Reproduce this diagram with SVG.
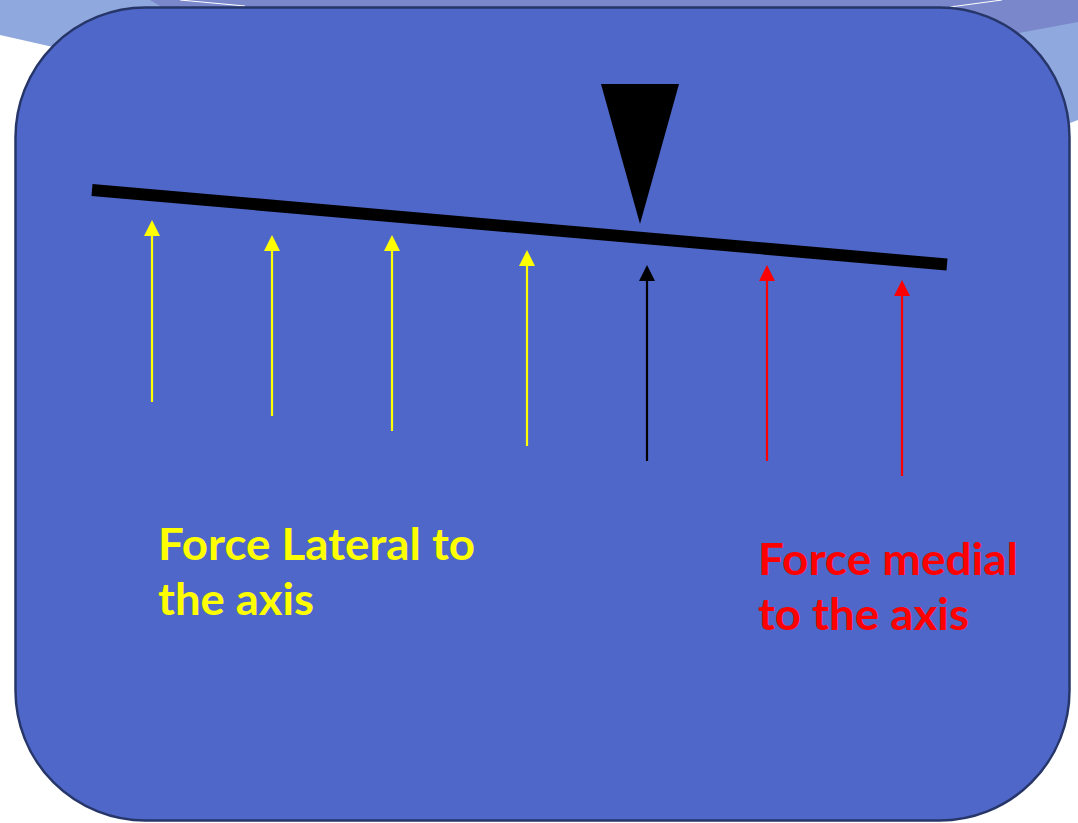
<svg xmlns="http://www.w3.org/2000/svg" width="1078" height="823" viewBox="0 0 1078 823">
  <defs>
    <style>
      .lbl { font-family: "Lato", "Open Sans", "Liberation Sans", sans-serif; font-weight: bold; font-size: 44px; }
      .shaft { stroke-width: 2.2; fill: none; }
    </style>
  </defs>
  <rect width="1078" height="823" fill="#ffffff"/>
  <g id="background">
    <polygon points="0,0 1078,0 1078,120 814,219 0,35" fill="#8FA8DE"/>
    <polygon points="150,0 1078,0 1078,22 820,70 250,60" fill="#7A87CA"/>
    <line x1="180" y1="0" x2="245" y2="6" stroke="#ffffff" stroke-width="1"/>
    <line x1="950" y1="7" x2="1002" y2="0" stroke="#ffffff" stroke-width="1"/>
  </g>
  <g id="panel">
    <rect x="15.5" y="7.5" width="1054" height="813" rx="130" ry="130" fill="#4F67C8" stroke="#273669" stroke-width="2.5"/>
  </g>
  <g id="beam">
    <line x1="92" y1="190" x2="947" y2="264.5" stroke="#000000" stroke-width="12"/>
  </g>
  <g id="fulcrum">
    <polygon points="601,84 679,84 640,224" fill="#000000"/>
  </g>
  <g id="connectors">
    <g id="arrow-y1"><line class="shaft" x1="152" y1="402" x2="152" y2="234" stroke="#FFFF00"/><polygon points="152,220 144,236 160,236" fill="#FFFF00"/></g>
    <g id="arrow-y2"><line class="shaft" x1="272" y1="416" x2="272" y2="249" stroke="#FFFF00"/><polygon points="272,235 264,251 280,251" fill="#FFFF00"/></g>
    <g id="arrow-y3"><line class="shaft" x1="392" y1="431" x2="392" y2="249" stroke="#FFFF00"/><polygon points="392,235 384,251 400,251" fill="#FFFF00"/></g>
    <g id="arrow-y4"><line class="shaft" x1="527" y1="446" x2="527" y2="264" stroke="#FFFF00"/><polygon points="527,250 519,266 535,266" fill="#FFFF00"/></g>
    <g id="arrow-k"><line class="shaft" x1="647" y1="461" x2="647" y2="279" stroke="#000000"/><polygon points="647,265 639,281 655,281" fill="#000000"/></g>
    <g id="arrow-r1"><line class="shaft" x1="767" y1="461" x2="767" y2="279" stroke="#FF0000"/><polygon points="767,265 759,281 775,281" fill="#FF0000"/></g>
    <g id="arrow-r2"><line class="shaft" x1="902" y1="476" x2="902" y2="294" stroke="#FF0000"/><polygon points="902,280 894,296 910,296" fill="#FF0000"/></g>
  </g>
  <g id="label-lateral">
    <text class="lbl" fill="#FFFF00" x="158" y="560" textLength="317" lengthAdjust="spacingAndGlyphs">Force Lateral to</text>
    <text class="lbl" fill="#FFFF00" x="158" y="615" textLength="156" lengthAdjust="spacingAndGlyphs">the axis</text>
  </g>
  <g id="label-medial">
    <text class="lbl" fill="#FF0000" x="758" y="575" textLength="260" lengthAdjust="spacingAndGlyphs">Force medial</text>
    <text class="lbl" fill="#FF0000" x="758" y="630" textLength="211" lengthAdjust="spacingAndGlyphs">to the axis</text>
  </g>
</svg>
